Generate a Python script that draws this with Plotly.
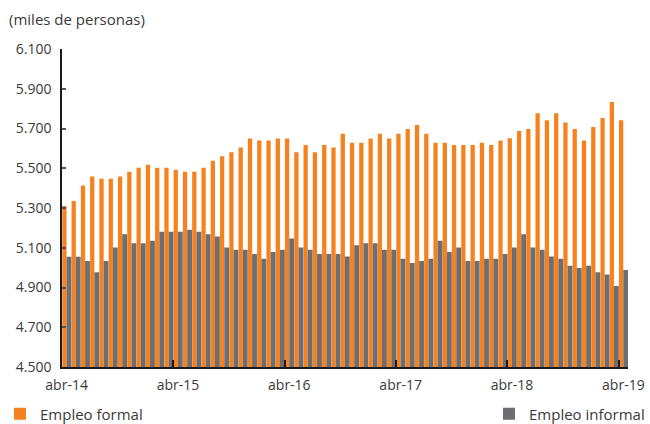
import plotly.graph_objects as go

# Monthly data, abr-14 .. abr-19 (61 months), miles de personas
months = list(range(61))
formal = [5310, 5335, 5413, 5458, 5447, 5447, 5458, 5482, 5503, 5517,
          5503, 5503, 5492, 5482, 5482, 5503, 5538, 5560, 5581, 5605,
          5650, 5640, 5640, 5650, 5650, 5581, 5617, 5581, 5617, 5605,
          5673, 5628, 5628, 5650, 5673, 5650, 5673, 5697, 5718, 5673,
          5628, 5628, 5617, 5617, 5617, 5628, 5617, 5640, 5651, 5687,
          5697, 5777, 5742, 5777, 5730, 5697, 5640, 5708, 5753, 5833,
          5742]
informal = [5055, 5055, 5033, 4977, 5033, 5101, 5168, 5123, 5123, 5135,
            5180, 5180, 5180, 5191, 5180, 5168, 5157, 5101, 5090, 5090,
            5068, 5045, 5078, 5090, 5147, 5101, 5090, 5068, 5068, 5068,
            5056, 5113, 5123, 5123, 5090, 5090, 5045, 5023, 5033, 5045,
            5135, 5078, 5101, 5033, 5033, 5045, 5045, 5068, 5101, 5168,
            5101, 5090, 5056, 5045, 5010, 4998, 5010, 4977, 4965, 4908,
            4988]
label_pos = [0, 12, 24, 36, 48, 60]
label_text = ["abr-14", "abr-15", "abr-16", "abr-17", "abr-18", "abr-19"]
year_bounds = [-0.5, 11.5, 23.5, 35.5, 47.5, 59.5]

ORANGE = "#F5821F"
GRAY = "#6D6E71"
FONT = "Open Sans"
TXT = "#3a3a3a"

fig = go.Figure()
fig.add_trace(go.Bar(x=months, y=formal, name="Empleo formal",
                     marker=dict(color=ORANGE, line=dict(width=0)),
                     offset=-0.47, width=0.46, legend="legend"))
fig.add_trace(go.Bar(x=months, y=informal, name="Empleo informal",
                     marker=dict(color=GRAY, line=dict(width=0)),
                     offset=-0.01, width=0.52, legend="legend2"))
# invisible trace to carry the boundary tick marks on a second x axis
fig.add_trace(go.Scatter(x=[-0.5], y=[4500], xaxis="x2", mode="markers",
                         marker=dict(opacity=0), showlegend=False,
                         hoverinfo="skip"))

fig.update_layout(
    width=650, height=424,
    margin=dict(l=62, r=22, t=49, b=57, autoexpand=False),
    plot_bgcolor="white", paper_bgcolor="white",
    barmode="overlay",
    separators=",.",
    font=dict(family=FONT, size=14, color=TXT),
    title=dict(text="(miles de personas)", x=9/650, xref="container",
               xanchor="left", y=1 - 20/424, yref="container",
               yanchor="middle", font=dict(family=FONT, size=15, color=TXT)),
    xaxis=dict(range=[-0.5, 60.5], tickvals=label_pos, ticktext=label_text,
               ticks="", showline=True, linecolor="#1a1a1a", linewidth=1.5,
               showgrid=False, zeroline=False, automargin=False,
               ticklabelstandoff=4,
               tickfont=dict(family=FONT, size=14, color=TXT)),
    xaxis2=dict(range=[-0.5, 60.5], overlaying="x", anchor="y", side="bottom",
                tickvals=year_bounds, ticks="inside", ticklen=7, tickwidth=1.5,
                tickcolor="#1a1a1a", showticklabels=False, showgrid=False,
                zeroline=False, showline=False, automargin=False),
    yaxis=dict(range=[4500, 6100], tickvals=list(range(4500, 6101, 200)),
               tickformat=",d", ticks="inside", ticklen=4, tickwidth=1.5,
               tickcolor="#555555", showline=True, linecolor="#1a1a1a",
               linewidth=1.5, showgrid=False, zeroline=False, automargin=False,
               ticklabelstandoff=6,
               tickfont=dict(family=FONT, size=14, color=TXT)),
    legend=dict(xref="container", yref="container", x=-0.022, y=1 - 414/424,
                xanchor="left", yanchor="middle", orientation="h",
                font=dict(family=FONT, size=15, color=TXT),
                bgcolor="rgba(0,0,0,0)"),
    legend2=dict(xref="container", yref="container", x=1.0, y=1 - 414/424,
                 xanchor="right", yanchor="middle", orientation="h",
                 font=dict(family=FONT, size=15, color=TXT),
                 bgcolor="rgba(0,0,0,0)"),
    showlegend=True,
)

fig.write_html("out.html", config={"displayModeBar": False})

# remove the default page margin so the figure sits at the window's corner
with open("out.html", "r", encoding="utf-8") as f:
    html = f.read()
html = html.replace("<head>", "<head><style>html,body{margin:0;padding:0;overflow:hidden;}</style>", 1)
with open("out.html", "w", encoding="utf-8") as f:
    f.write(html)
